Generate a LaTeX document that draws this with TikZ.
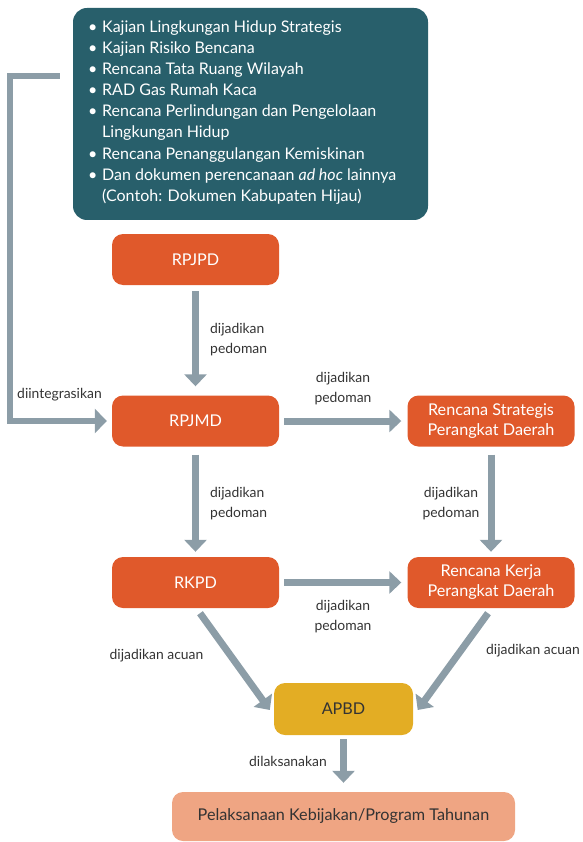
\documentclass[tikz,border=0pt]{standalone}
\usepackage{fontspec}
\setmainfont{Lato}
\usetikzlibrary{arrows.meta,calc}
\definecolor{teal1}{HTML}{285F6B}
\definecolor{orng}{HTML}{E0592B}
\definecolor{arr}{HTML}{8C9DA7}
\definecolor{gold}{HTML}{E3AD24}
\definecolor{salmon}{HTML}{EFA583}
\definecolor{txt}{HTML}{333333}
\begin{document}
\begin{tikzpicture}[x=1pt,y=-1pt,
  box/.style={rounded corners=11pt, minimum width=167pt, minimum height=51pt, inner sep=0pt, align=center, font=\fontsize{16.2}{20}\selectfont},
  obox/.style={box, fill=orng, text=white},
  flow/.style={draw=arr, line width=7pt, -{Triangle[width=22pt,length=12pt]}},
  lbl/.style={text=txt, font=\fontsize{13.9}{20}\selectfont, inner sep=0pt, align=center}]
\useasboundingbox (0,0) rectangle (582,842);
% boxes
\node[box, fill=teal1, minimum width=355pt, minimum height=212pt, rounded corners=14pt] (docs) at (250.5,114) {};
\node[anchor=north west, text=white, align=left, inner sep=0pt, font=\fontsize{16}{21.1}\selectfont] (list) at (88,20.5) {%
\makebox[14pt][l]{\textbullet}Kajian Lingkungan Hidup Strategis\\
\makebox[14pt][l]{\textbullet}Kajian Risiko Bencana\\
\makebox[14pt][l]{\textbullet}Rencana Tata Ruang Wilayah\\
\makebox[14pt][l]{\textbullet}RAD Gas Rumah Kaca\\
\makebox[14pt][l]{\textbullet}Rencana Perlindungan dan Pengelolaan\\
\hspace*{14pt}Lingkungan Hidup\\
\makebox[14pt][l]{\textbullet}Rencana Penanggulangan Kemiskinan\\
\makebox[14pt][l]{\textbullet}Dan dokumen perencanaan \textit{ad hoc} lainnya\\
\hspace*{14pt}(Contoh: Dokumen Kabupaten Hijau)};
\node[obox] (rpjpd) at (195.5,259.5) {RPJPD};
\node[obox] (rpjmd) at (195.5,421) {RPJMD};
\node[obox] (renstra) at (491,421) {Rencana Strategis\\Perangkat Daerah};
\node[obox] (rkpd) at (195.5,582.5) {RKPD};
\node[obox] (renja) at (491,582.5) {Rencana Kerja\\Perangkat Daerah};
\node[box, fill=gold, text=txt, minimum width=139pt, minimum height=52pt] (apbd) at (343.5,709) {APBD};
\node[box, fill=salmon, text=txt, minimum width=343pt, minimum height=49pt] (pel) at (343.5,816.5) {Pelaksanaan Kebijakan/Program Tahunan};
% connectors
\coordinate (c1) at ($(docs.west)+(-13,-38)$);
\draw[draw=arr, line width=6pt, -{Triangle[width=24pt,length=12pt]}] (c1) -| (10,421) -- ($(rpjmd.west)+(-5,0)$);
\draw[flow, shorten <=6pt, shorten >=9pt] (rpjpd) -- (rpjmd);
\draw[flow, shorten <=8pt, shorten >=5pt] (rpjmd) -- (rkpd);
\draw[flow, shorten <=8pt, shorten >=5pt] (renstra) -- (renja);
\draw[flow, shorten <=5pt, shorten >=6pt] (rpjmd) -- (renstra);
\draw[flow, shorten <=5pt, shorten >=6pt] (rkpd) -- (renja);
\draw[flow] ($(rkpd.south)+(4.5,5)$) -- ($(apbd.west)+(-4,1)$);
\draw[flow] ($(renja.south)+(-3,5)$) -- ($(apbd.east)+(4.5,1)$);
\draw[flow, shorten <=4pt, shorten >=9pt] (apbd) -- (pel);
% labels
\node[lbl, align=left, anchor=west] (l1) at (210,340) {dijadikan\\pedoman};
\node[lbl] (l2) at (343,389) {dijadikan\\pedoman};
\node[lbl, align=left, anchor=west] (l3) at (210,504) {dijadikan\\pedoman};
\node[lbl] (l4) at (451,504) {dijadikan\\pedoman};
\node[lbl] (l5) at (343,617) {dijadikan\\pedoman};
\node[lbl] (l6) at (156.5,656) {dijadikan acuan};
\node[lbl] (l7) at (533,651) {dijadikan acuan};
\node[lbl] (l8) at (288,761) {dilaksanakan};
\node[lbl] (l9) at (59.5,395) {diintegrasikan};
\end{tikzpicture}
\end{document}
